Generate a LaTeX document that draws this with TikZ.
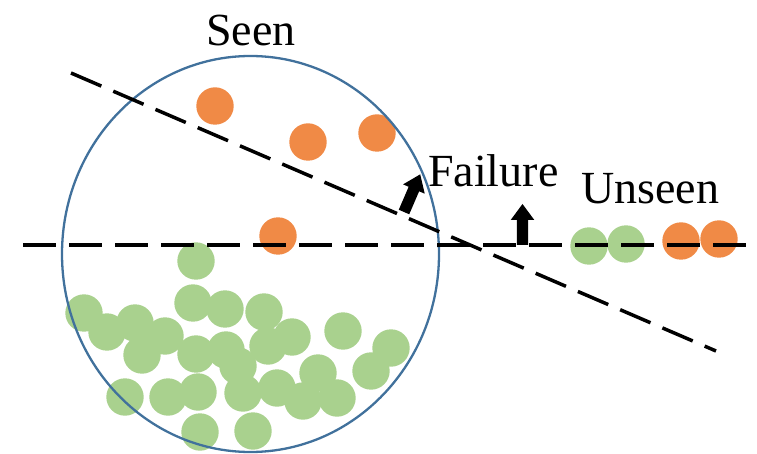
\documentclass[tikz,border=0pt]{standalone}
\usepackage{fontspec}
\setmainfont{Liberation Serif}
\definecolor{dotgreen}{RGB}{169,209,142}
\definecolor{dotorange}{RGB}{240,138,70}
\definecolor{ringblue}{RGB}{65,113,156}
\begin{document}
\begin{tikzpicture}[x=1pt,y=-1pt,
  dot/.style={circle,minimum size=37.4pt,inner sep=0pt,fill=#1},
  dashline/.style={line width=3.5pt,dash pattern=on 33pt off 13pt},
  ring/.style={draw=ringblue,line width=2.3pt},
  lbl/.style={font=\fontsize{46}{50}\selectfont,inner sep=0pt,anchor=base west},
  blockarrow/.pic={\fill[black] (-5.7,0) -- (-5.7,-25) -- (-11.8,-25) -- (0,-41) -- (11.8,-25) -- (5.7,-25) -- (5.7,0) -- cycle;}]
\useasboundingbox (0,0) rectangle (757,454);
% green dots
\foreach \x/\y [count=\i] in {196/261,193/303,225/309,264/312,84/313,107/332,135/323,165/336,142/355,196/354,226/350,238/366,268/346,292/337,343/331,391/348,371/371,318/373,125/397,168/397,198/392,243/393,277/388,303/401,337/398,200/432,253/431,589/246,626/244}
  \node[dot=dotgreen] (g\i) at (\x,\y) {};
% orange dots
\foreach \x/\y [count=\i] in {215/106,308/142,377/133,278/236,681/241,719/239}
  \node[dot=dotorange] (o\i) at (\x,\y) {};
% seen region
\coordinate (c) at (250.5,254);
\draw[ring] (c) ellipse [x radius=188.5, y radius=198];
% decision boundaries
\coordinate (h1) at (23,245);
\coordinate (h2) at (746,245);
\coordinate (s1) at (71,73);
\coordinate (s2) at (716,351);
\draw[dashline] (h1) -- (h2);
\draw[dashline] (s1) -- (s2);
% arrows
\coordinate (a1) at (404,212);
\coordinate (a2) at (522.5,245);
\pic[rotate=-23.3] at (a1) {blockarrow};
\pic at (a2) {blockarrow};
% labels
\node[lbl] (seen) at (206,46) {Seen};
\node[lbl] (fail) at (428,187) {Failure};
\node[lbl] (unseen) at (581,204) {Unseen};
\end{tikzpicture}
\end{document}
